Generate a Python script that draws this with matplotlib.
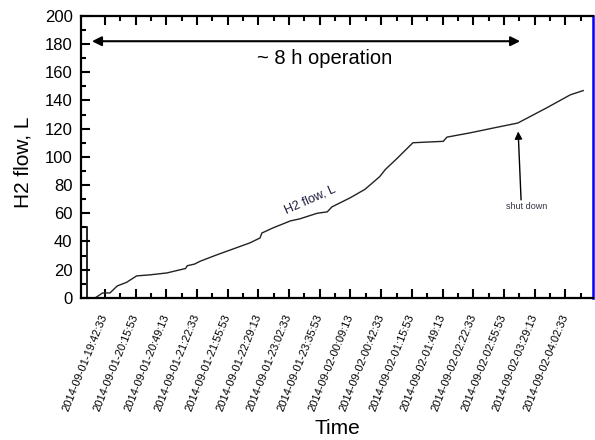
import pandas as pd
import matplotlib.pyplot as plt
import matplotlib.dates as mdates

plt.rcParams.update({
    "font.family": ["Liberation Sans", "DejaVu Sans"],
    "font.size": 12,
})

# H2 flow readings (time, litres)
times = [
    "2014-09-01 19:32", "2014-09-01 19:40", "2014-09-01 19:48", "2014-09-01 19:56",
    "2014-09-01 20:06", "2014-09-01 20:17", "2014-09-01 20:31", "2014-09-01 20:50",
    "2014-09-01 21:04", "2014-09-01 21:10", "2014-09-01 21:12", "2014-09-01 21:20",
    "2014-09-01 21:26", "2014-09-01 21:44", "2014-09-01 22:20", "2014-09-01 22:31",
    "2014-09-01 22:33", "2014-09-01 22:45", "2014-09-01 23:04", "2014-09-01 23:14",
    "2014-09-01 23:33", "2014-09-01 23:44", "2014-09-01 23:49", "2014-09-02 00:09",
    "2014-09-02 00:25", "2014-09-02 00:41", "2014-09-02 00:47", "2014-09-02 01:00",
    "2014-09-02 01:17", "2014-09-02 01:36", "2014-09-02 01:50", "2014-09-02 01:54",
    "2014-09-02 02:19", "2014-09-02 02:41", "2014-09-02 03:11", "2014-09-02 03:43",
    "2014-09-02 04:08", "2014-09-02 04:22",
]
flow = [
    0, 3.5, 3.5, 8.5,
    11, 15.6, 16.3, 17.7,
    19.9, 20.8, 22.8, 24,
    26, 30.5, 39, 42.5,
    46, 49.6, 54.6, 56,
    60, 61, 64.5, 71,
    77, 86, 91, 99,
    110, 110.6, 111, 114,
    117, 120, 124, 135,
    144, 147,
]

# outlined box at the left edge
box_time = "2014-09-01 19:19:45"
box_height = 50

tick_labels = [
    "2014-09-01 19:42:33", "2014-09-01 20:15:53", "2014-09-01 20:49:13",
    "2014-09-01 21:22:33", "2014-09-01 21:55:53", "2014-09-01 22:29:13",
    "2014-09-01 23:02:33", "2014-09-01 23:35:53", "2014-09-02 00:09:13",
    "2014-09-02 00:42:33", "2014-09-02 01:15:53", "2014-09-02 01:49:13",
    "2014-09-02 02:22:33", "2014-09-02 02:55:53", "2014-09-02 03:29:13",
    "2014-09-02 04:02:33",
]

t = pd.to_datetime(times)
ticks = pd.to_datetime(tick_labels)

fig = plt.figure(figsize=(5.95, 4.4), dpi=100)
ax = fig.add_axes([0.136, 0.323, 0.861, 0.641])

ax.bar(pd.to_datetime([box_time]), [box_height], width=6.5 / 1440,
       facecolor="white", edgecolor="black", linewidth=1.2)
ax.plot(t, flow, color="#222222", linewidth=1.0)

ax.set_xlim(pd.Timestamp("2014-09-01 19:16:28"), pd.Timestamp("2014-09-02 04:32:51"))
ax.set_ylim(0, 200)

# axis ticks
ax.set_xticks(ticks)
minor = ticks[:-1] + (ticks[1:] - ticks[:-1]) / 2
minor = minor.append(pd.DatetimeIndex([ticks[-1] + (ticks[1] - ticks[0]) / 2]))
ax.set_xticks(minor, minor=True)
ax.xaxis.set_major_formatter(mdates.DateFormatter("%Y-%m-%d-%H:%M:%S"))
ax.set_yticks(range(0, 201, 20))
ax.set_yticks(range(10, 200, 20), minor=True)

ax.tick_params(which="both", direction="in", top=True, right=False, width=1.5, color="black")
ax.tick_params(which="major", length=6.5)
ax.tick_params(which="minor", length=3.5)
ax.tick_params(axis="y", labelsize=12, pad=6)
ax.tick_params(axis="x", labelsize=8, pad=12)
for lab in ax.get_xticklabels():
    lab.set_rotation(68)
    lab.set_ha("right")
    lab.set_va("center")
    lab.set_rotation_mode("anchor")

for side in ["left", "bottom", "top"]:
    ax.spines[side].set_linewidth(1.6)
ax.spines["right"].set_color("#0000ff")
ax.spines["right"].set_linewidth(1.8)

ax.set_xlabel("Time", fontsize=15)
ax.set_ylabel("H2 flow, L", fontsize=15)
ax.xaxis.set_label_coords(0.5, -0.43)
ax.yaxis.set_label_coords(-0.094, 0.48)

# ~8 h operation double arrow
ax.annotate("", xy=(pd.Timestamp("2014-09-01 19:28:25"), 182),
            xytext=(pd.Timestamp("2014-09-02 03:13:31"), 182),
            arrowprops=dict(arrowstyle="<|-|>", color="black", lw=1.5,
                            mutation_scale=14, shrinkA=0, shrinkB=0))
ax.text(pd.Timestamp("2014-09-01 23:41:37"), 170, "~ 8 h operation",
        fontsize=14.5, ha="center", va="center")

# curve label
ax.text(pd.Timestamp("2014-09-01 23:25:19"), 69.5, "H2 flow, L",
        fontsize=9, rotation=24, ha="center", va="center", color="#202040")

# shut down arrow
ax.annotate("", xy=(pd.Timestamp("2014-09-02 03:11:20"), 118),
            xytext=(pd.Timestamp("2014-09-02 03:14:30"), 69.5),
            arrowprops=dict(arrowstyle="-|>", color="black", lw=1.0,
                            mutation_scale=11, shrinkA=0, shrinkB=0))
ax.text(pd.Timestamp("2014-09-02 03:20:00"), 64.5, "shut down",
        fontsize=6.5, ha="center", va="center", color="#333344")

plt.savefig("out.png", dpi=100)
